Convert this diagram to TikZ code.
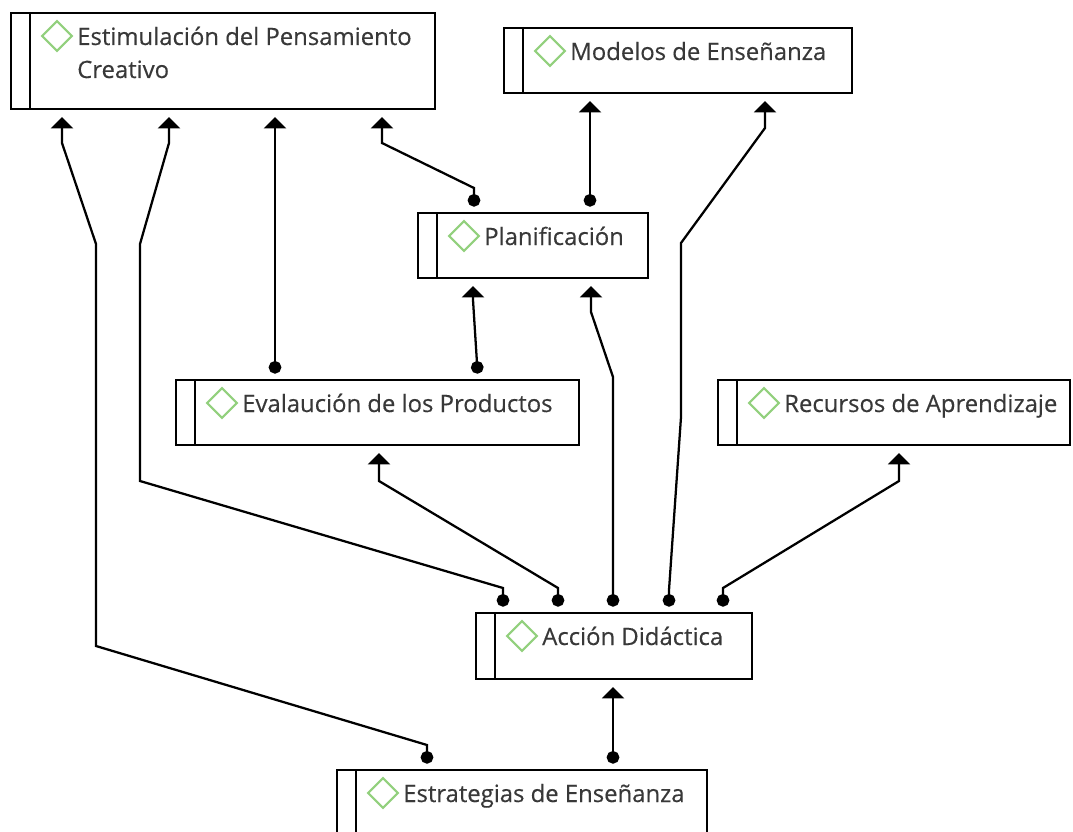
\documentclass[tikz,border=0pt]{standalone}
\usepackage{fontspec}
\setmainfont{Open Sans}
\newfontfamily\lblfont[FakeBold=0.35]{Open Sans}
\usetikzlibrary{arrows.meta,shapes.geometric,calc}
\definecolor{txt}{RGB}{56,56,56}
\definecolor{dia}{RGB}{146,208,125}
\begin{document}
\begin{tikzpicture}[x=0.75pt,y=-0.75pt,
 box/.style={draw=black,line width=1.8pt,fill=white,anchor=north west,inner sep=0pt,minimum height=48.75pt},
 lbl/.style={anchor=base west,inner sep=0pt,text=txt,font=\lblfont\fontsize{17.9}{24.75}\selectfont},
 dmd/.style={draw=dia,line width=1.6pt,diamond,aspect=1,minimum width=23pt,minimum height=23pt,inner sep=0pt},
 divl/.style={line width=1.8pt},
 conn/.style={line width=1.7pt,{Circle[length=9.5pt]}-{Triangle[length=8.5pt,width=16.5pt]},shorten <=4pt,shorten >=5pt}]
\clip (0,0) rectangle (1073,831);
\fill[white] (0,0) rectangle (1073,831);

% boxes
\node[box,minimum width=318pt,minimum height=72pt] (est) at (10,12) {};
\node[box,minimum width=261pt] (mod) at (503,27) {};
\node[box,minimum width=172.5pt] (pla) at (417,212) {};
\node[box,minimum width=302.25pt] (eva) at (175,379) {};
\node[box,minimum width=264pt] (rec) at (717,379) {};
\node[box,minimum width=207pt,minimum height=49.5pt] (acc) at (475,612) {};
\node[box,minimum width=277.5pt,minimum height=49.5pt] (str) at (336,769) {};

% dividers, diamonds, labels
\foreach \b in {est,mod,pla,eva,rec,acc,str}{
  \draw[divl] ([xshift=15pt]\b.north west) -- ([xshift=15pt]\b.south west);
  \node[dmd] (\b D) at ($(\b.north west)+(47,24)$) {};
}
\node[lbl] (estT) at ($(est.north west)+(67,33)$) {Estimulación del Pensamiento};
\node[lbl] (estT2) at ($(est.north west)+(67,66)$) {Creativo};
\node[lbl] (modT) at ($(mod.north west)+(67,33)$) {Modelos de Enseñanza};
\node[lbl] (plaT) at ($(pla.north west)+(67,33)$) {Planificación};
\node[lbl] (evaT) at ($(eva.north west)+(67,33)$) {Evalaución de los Productos};
\node[lbl] (recT) at ($(rec.north west)+(67,33)$) {Recursos de Aprendizaje};
\node[lbl] (accT) at ($(acc.north west)+(67,33)$) {Acción Didáctica};
\node[lbl] (strT) at ($(str.north west)+(67,33)$) {Estrategias de Enseñanza};

% connectors
\draw[conn] (427,0 |- str.north) -- (427,745) -- (96,646) -- (96,244) -- (62,143) -- (62,0 |- est.south);
\draw[conn] (503,0 |- acc.north) -- (503,588) -- (140,481) -- (140,244) -- (169,143) -- (169,0 |- est.south);
\draw[conn] (275,0 |- eva.north) -- (275,0 |- est.south);
\draw[conn] (474,0 |- pla.north) -- (474,188) -- (382,143) -- (382,0 |- est.south);
\draw[conn] (590,0 |- pla.north) -- (590,0 |- mod.south);
\draw[conn] (669,0 |- acc.north) -- (669,590) -- (681,417) -- (681,243) -- (765,128) -- (765,0 |- mod.south);
\draw[conn] (478,0 |- eva.north) -- (473,300) -- (473,0 |- pla.south);
\draw[conn] (613,0 |- acc.north) -- (613,377) -- (591,312) -- (591,0 |- pla.south);
\draw[conn] (558,0 |- acc.north) -- (558,588) -- (379,481) -- (379,0 |- eva.south);
\draw[conn] (723,0 |- acc.north) -- (723,588) -- (899,481) -- (899,0 |- rec.south);
\draw[conn] (613,0 |- str.north) -- (613,0 |- acc.south);
\end{tikzpicture}
\end{document}
